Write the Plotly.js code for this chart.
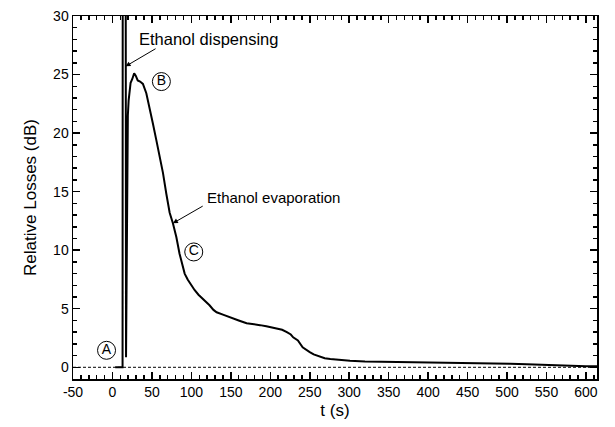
<!DOCTYPE html>
<html>
<head>
<meta charset="utf-8">
<script src="https://cdn.plot.ly/plotly-3.0.1.min.js"></script>
<style>html,body{margin:0;padding:0;background:#fff;}#chart{width:615px;height:427px;}</style>
</head>
<body>
<div id="chart"></div>
<script>
// Time (s)
var timeS = [3.5, 12.8, 13.0, 16.8, 17.2, 18.4, 19.5, 20.5, 23, 25, 27.5, 29.5, 32, 35, 38.6, 42.9, 47, 51.3, 55.6, 59.8, 64, 68.3, 72.5, 76.6, 81, 85, 91.5, 95.3, 99, 104, 109, 114, 118, 123, 128, 132, 140, 149, 160, 170, 180, 187, 195, 202, 208, 215, 221, 226, 229, 235, 241, 245, 250, 255, 259, 264, 269, 276, 282, 292, 301, 320, 340, 364, 400, 428, 466, 490, 504, 525, 542, 560, 580, 600, 614];
// Relative losses (dB)
var lossDb = [0, 0, 33, 33, 0.85, 15, 21.5, 22.8, 24.3, 24.6, 25.1, 24.9, 24.5, 24.4, 24.2, 23.4, 22.2, 20.8, 19.4, 18.0, 16.6, 14.8, 13.2, 12.3, 11.1, 9.7, 8.0, 7.5, 7.1, 6.6, 6.2, 5.9, 5.6, 5.3, 4.9, 4.7, 4.5, 4.3, 4.0, 3.76, 3.7, 3.6, 3.5, 3.4, 3.33, 3.2, 3.0, 2.8, 2.56, 2.3, 1.7, 1.5, 1.3, 1.1, 1.0, 0.85, 0.77, 0.7, 0.65, 0.6, 0.55, 0.5, 0.48, 0.45, 0.44, 0.42, 0.40, 0.36, 0.3, 0.25, 0.2, 0.16, 0.12, 0.09, 0.08];
// Stage markers
var stageT = [-7.5, 62, 103];
var stageLoss = [1.45, 24.4, 9.85];
var stageText = ['A', 'B', 'C'];
// Zero reference line
var baselineT = [-50, 614];
var baselineLoss = [0, 0];
// Axis ranges and ticks
var xRange = [-50, 614];
var yRange = [-1, 30];
var xTickVals = [-50, 0, 50, 100, 150, 200, 250, 300, 350, 400, 450, 500, 550, 600];
var xTickText = ['-50', '0', '50', '100', '150', '200', '250', '300', '350', '400', '450', '500', '550', '600'];
var yTickVals = [0, 5, 10, 15, 20, 25, 30];
var yTickText = ['0', '5', '10', '15', '20', '25', '30'];

var fontFam = 'Liberation Sans, Arial, sans-serif';

var traces = [
  {x: baselineT, y: baselineLoss, type: 'scatter', mode: 'lines',
   line: {color: '#000', width: 1, dash: '3px,2px'}, hoverinfo: 'skip', showlegend: false},
  {x: timeS, y: lossDb, type: 'scatter', mode: 'lines',
   line: {color: '#000', width: 2}, hoverinfo: 'skip', showlegend: false},
  {x: stageT, y: stageLoss, type: 'scatter', mode: 'markers+text',
   text: stageText, textposition: 'middle center',
   textfont: {family: fontFam, size: 14, color: '#000'},
   marker: {symbol: 'circle-open', size: 18, color: '#000', line: {width: 1, color: '#000'}},
   cliponaxis: false, hoverinfo: 'skip', showlegend: false}
];

function axis(extra) {
  var a = {
    showline: true, linecolor: '#000', linewidth: 1.5, mirror: 'allticks',
    ticks: 'inside', ticklen: 7, tickwidth: 1.5, tickcolor: '#000',
    showgrid: false, zeroline: false,
    tickfont: {family: fontFam, size: 14, color: '#000'}
  };
  for (var k in extra) a[k] = extra[k];
  return a;
}

var layout = {
  width: 615, height: 427,
  margin: {l: 73, r: 18, t: 16, b: 48},
  paper_bgcolor: '#fff', plot_bgcolor: '#fff',
  showlegend: false,
  xaxis: axis({
    range: xRange, tickmode: 'array', tickvals: xTickVals, ticktext: xTickText,
    minor: {dtick: 10, tick0: 0, ticks: 'inside', ticklen: 4, tickwidth: 1.5, tickcolor: '#000', showgrid: false},
    title: {text: 't (s)', font: {family: fontFam, size: 17, color: '#000'}, standoff: 5}
  }),
  yaxis: axis({
    range: yRange, tickmode: 'array', tickvals: yTickVals, ticktext: yTickText,
    minor: {dtick: 1, tick0: 0, ticks: 'inside', ticklen: 4, tickwidth: 1.5, tickcolor: '#000', showgrid: false},
    title: {text: 'Relative Losses (dB)', font: {family: fontFam, size: 17, color: '#000'}, standoff: 12}
  }),
  annotations: [
    {x: 30.7, y: 28.0, xref: 'x', yref: 'y', text: 'Ethanol dispensing', showarrow: false,
     xanchor: 'left', yanchor: 'middle', font: {family: fontFam, size: 16.5, color: '#000'}},
    {x: 16.6, y: 25.7, xref: 'x', yref: 'y', text: '', showarrow: true,
     ax: 31.5, ay: -18.5, arrowhead: 2, arrowsize: 1, arrowwidth: 1, arrowcolor: '#000'},
    {x: 116.9, y: 14.5, xref: 'x', yref: 'y', text: 'Ethanol evaporation', showarrow: false,
     xanchor: 'left', yanchor: 'middle', font: {family: fontFam, size: 15, color: '#000'}},
    {x: 76.6, y: 12.3, xref: 'x', yref: 'y', text: '', showarrow: true,
     ax: 31.3, ay: -18, arrowhead: 2, arrowsize: 1, arrowwidth: 1, arrowcolor: '#000'}
  ]
};

Plotly.newPlot('chart', traces, layout, {displayModeBar: false, staticPlot: true});
</script>
</body>
</html>
